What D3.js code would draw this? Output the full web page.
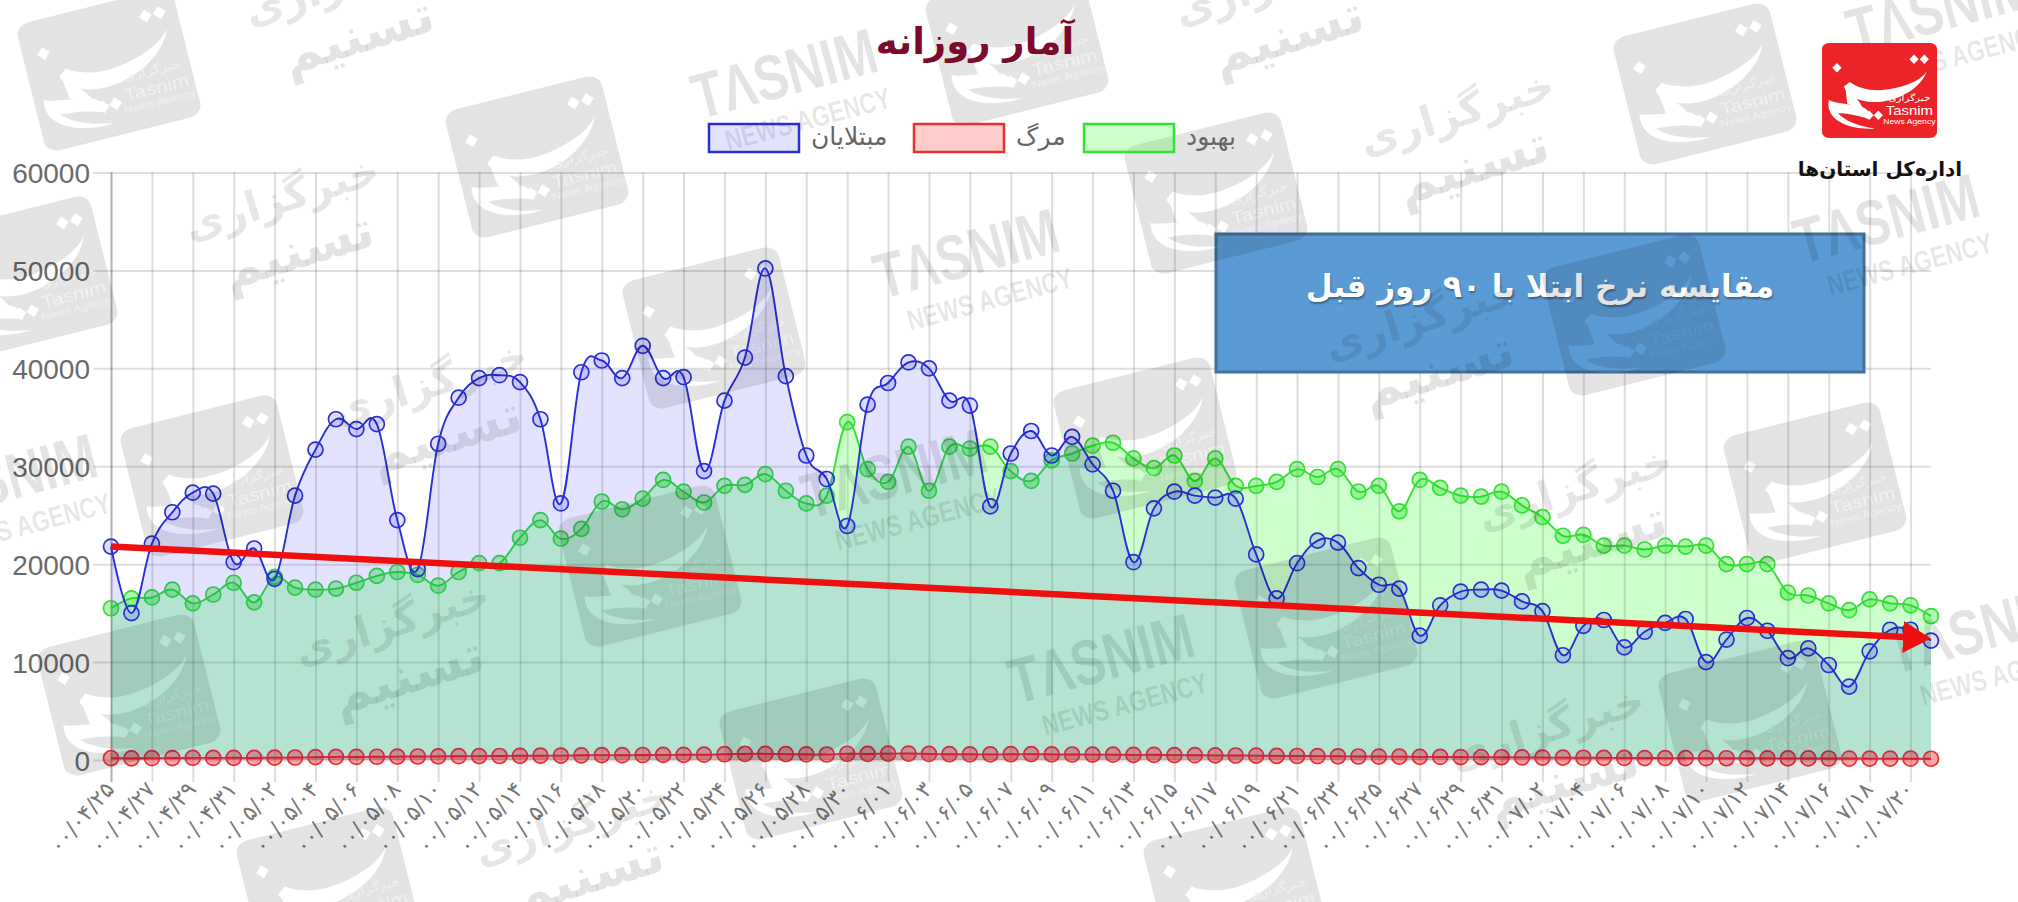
<!DOCTYPE html>
<html><head><meta charset="utf-8">
<script src="https://cdn.jsdelivr.net/npm/d3@7/dist/d3.min.js"></script>
<style>html,body{margin:0;padding:0;background:#fff}svg{display:block}</style>
</head><body><svg id="c" width="2018" height="902"></svg>
<script>
const titleText = "آمار روزانه";
const boxText = "مقایسه نرخ ابتلا با ۹۰ روز قبل";
const orgText = "اداره‌کل استان‌ها";
const seriesNames = ["مبتلایان","مرگ","بهبود"];
const yTicks = [0,10000,20000,30000,40000,50000,60000];
const dates = ["۰۰/۰۴/۲۵","۰۰/۰۴/۲۶","۰۰/۰۴/۲۷","۰۰/۰۴/۲۸","۰۰/۰۴/۲۹","۰۰/۰۴/۳۰","۰۰/۰۴/۳۱",
"۰۰/۰۵/۰۱","۰۰/۰۵/۰۲","۰۰/۰۵/۰۳","۰۰/۰۵/۰۴","۰۰/۰۵/۰۵","۰۰/۰۵/۰۶","۰۰/۰۵/۰۷","۰۰/۰۵/۰۸","۰۰/۰۵/۰۹","۰۰/۰۵/۱۰","۰۰/۰۵/۱۱","۰۰/۰۵/۱۲","۰۰/۰۵/۱۳","۰۰/۰۵/۱۴","۰۰/۰۵/۱۵","۰۰/۰۵/۱۶","۰۰/۰۵/۱۷","۰۰/۰۵/۱۸","۰۰/۰۵/۱۹","۰۰/۰۵/۲۰","۰۰/۰۵/۲۱","۰۰/۰۵/۲۲","۰۰/۰۵/۲۳","۰۰/۰۵/۲۴","۰۰/۰۵/۲۵","۰۰/۰۵/۲۶","۰۰/۰۵/۲۷","۰۰/۰۵/۲۸","۰۰/۰۵/۲۹","۰۰/۰۵/۳۰","۰۰/۰۵/۳۱",
"۰۰/۰۶/۰۱","۰۰/۰۶/۰۲","۰۰/۰۶/۰۳","۰۰/۰۶/۰۴","۰۰/۰۶/۰۵","۰۰/۰۶/۰۶","۰۰/۰۶/۰۷","۰۰/۰۶/۰۸","۰۰/۰۶/۰۹","۰۰/۰۶/۱۰","۰۰/۰۶/۱۱","۰۰/۰۶/۱۲","۰۰/۰۶/۱۳","۰۰/۰۶/۱۴","۰۰/۰۶/۱۵","۰۰/۰۶/۱۶","۰۰/۰۶/۱۷","۰۰/۰۶/۱۸","۰۰/۰۶/۱۹","۰۰/۰۶/۲۰","۰۰/۰۶/۲۱","۰۰/۰۶/۲۲","۰۰/۰۶/۲۳","۰۰/۰۶/۲۴","۰۰/۰۶/۲۵","۰۰/۰۶/۲۶","۰۰/۰۶/۲۷","۰۰/۰۶/۲۸","۰۰/۰۶/۲۹","۰۰/۰۶/۳۰","۰۰/۰۶/۳۱",
"۰۰/۰۷/۰۱","۰۰/۰۷/۰۲","۰۰/۰۷/۰۳","۰۰/۰۷/۰۴","۰۰/۰۷/۰۵","۰۰/۰۷/۰۶","۰۰/۰۷/۰۷","۰۰/۰۷/۰۸","۰۰/۰۷/۰۹","۰۰/۰۷/۱۰","۰۰/۰۷/۱۱","۰۰/۰۷/۱۲","۰۰/۰۷/۱۳","۰۰/۰۷/۱۴","۰۰/۰۷/۱۵","۰۰/۰۷/۱۶","۰۰/۰۷/۱۷","۰۰/۰۷/۱۸","۰۰/۰۷/۱۹","۰۰/۰۷/۲۰","۰۰/۰۷/۲۱"];
const infected = [21800,15000,22100,25300,27300,27200,20200,21600,18500,27000,31700,34800,33800,34300,24500,19500,32300,37000,39000,39300,38600,34800,26200,39600,40800,39000,42300,39000,39100,29500,36700,41100,50200,39200,31100,28700,23900,36300,38500,40600,40000,36700,36200,25900,31300,33600,31100,33000,30200,27500,20200,25700,27400,27000,26800,26700,21000,16500,20100,22400,22200,19600,17900,17500,12700,15800,17200,17400,17300,16200,15200,10700,13700,14300,11500,13100,14000,14400,10000,12300,14500,13200,10400,11400,9700,7500,11100,13300,13300,12200];
const deaths = [190,170,185,200,215,210,225,210,240,255,290,320,310,330,340,360,370,390,400,410,430,440,450,480,500,490,510,520,530,540,590,620,630,600,580,560,640,620,650,660,620,590,580,570,590,600,570,560,550,540,520,530,500,490,470,460,450,420,410,400,380,360,350,340,320,310,300,290,280,270,250,240,230,220,210,200,195,190,185,180,175,170,165,160,155,150,145,140,135,130];
const recovered = [15500,16500,16600,17400,16000,16900,18100,16100,18700,17600,17400,17500,18100,18800,19200,18900,17800,19200,20100,20100,22700,24500,22600,23600,26400,25600,26700,28600,27400,26300,28000,28100,29200,27500,26200,27000,34500,29700,28400,32000,27500,32000,31800,32000,29500,28500,30600,31300,32100,32400,30800,29800,31100,28500,30800,28000,28000,28400,29700,28900,29700,27400,28000,25400,28600,27800,27000,26900,27400,26000,24800,22900,23000,21900,21900,21500,21900,21800,21900,20000,20000,20000,17100,16800,16000,15300,16400,16000,15800,14700];
const trend = [21800,12500];

// decorative watermark placement (not chart data)
const wmLogos = [[109,70],[537,157],[1017,45],[1216,193],[1705,84],[714,328],[26,277],[212,476],[1145,438],[1634,315],[1815,483],[650,566],[1326,618],[129,695],[811,759],[1750,721],[328,888],[1235,888]];
const wmFa = [[290,225],[1465,140],[438,410],[1430,345],[1583,515],[400,650],[1555,755],[580,850],[350,10],[1280,10]];
const wmEn = [[790,95],[972,275],[1892,240],[900,495],[1107,680],[1985,650],[1945,30],[10,500]];

const svg = d3.select("#c");
const faFont="'DejaVu Sans',sans-serif", latFont="'Liberation Sans',Arial,sans-serif";
const x = d3.scalePoint().domain(dates).range([111,1931]);
const y = d3.scaleLinear().domain([0,60000]).range([760,172.5]);

const colors = {
  inf:{s:"#2a30d0",f:"rgba(0,0,255,0.11)",p:"rgba(0,0,255,0.13)"},
  dth:{s:"#e8312f",f:"rgba(255,0,0,0.2)",p:"rgba(255,0,0,0.35)"},
  rec:{s:"#35e035",f:"rgba(0,255,0,0.2)",p:"rgba(0,220,0,0.3)"}};

// axes with grid
const xTicks = dates.filter((d,i)=>i%2===0);
const gx = svg.append("g").attr("transform",`translate(0,${y(0)})`)
  .call(d3.axisBottom(x).tickValues(xTicks).tickSize(10));
gx.select(".domain").remove();
gx.selectAll(".tick line").attr("y1",-(y(0)-y(60000))).attr("y2",22).attr("stroke","rgba(0,0,0,0.13)").attr("stroke-width",2);
gx.select(".tick line").attr("stroke","rgba(0,0,0,0.3)");
gx.selectAll(".tick text").attr("font-family",faFont).attr("font-size",22).attr("letter-spacing",1).attr("fill","#777")
  .attr("text-anchor","end").attr("direction","ltr").attr("dy",0).attr("x",0).attr("y",0)
  .attr("transform","translate(4,30) rotate(-49)");

const gy = svg.append("g").attr("transform",`translate(${x.range()[0]},0)`)
  .call(d3.axisLeft(y).tickValues(yTicks).tickFormat(d3.format("d")).tickSize(18));
gy.select(".domain").remove();
gy.selectAll(".tick line").attr("x1",-18).attr("x2",x.range()[1]-x.range()[0]).attr("stroke","rgba(0,0,0,0.13)").attr("stroke-width",2);
gy.selectAll(".tick text").attr("font-family",latFont).attr("font-size",28).attr("fill","#6a6a6a").attr("x",-21).attr("dy","0.36em");

// series
const curve = d3.curveCardinal.tension(-0.1);
const area = d3.area().x((d,i)=>x(dates[i])).y0(y(0)).y1(d=>y(d)).curve(curve);
const line = d3.line().x((d,i)=>x(dates[i])).y(d=>y(d)).curve(curve);
const series = [{v:recovered,c:colors.rec},{v:deaths,c:colors.dth},{v:infected,c:colors.inf}];
const sg = svg.selectAll("g.s").data(series).enter().append("g").attr("class","s");
sg.append("path").attr("d",d=>area(d.v)).attr("fill",d=>d.c.f);
sg.append("path").attr("d",d=>line(d.v)).attr("fill","none").attr("stroke",d=>d.c.s).attr("stroke-width",1.9);
sg.each(function(s){
  d3.select(this).selectAll("circle").data(s.v).enter().append("circle")
    .attr("cx",(d,i)=>x(dates[i])).attr("cy",d=>y(d)).attr("r",7.5)
    .attr("fill",s.c.p).attr("stroke",s.c.s).attr("stroke-width",1.7);
});

// blue note box
svg.append("rect").attr("x",1216).attr("y",234).attr("width",648).attr("height",138).attr("fill","#5b9bd5").attr("stroke","#41719c").attr("stroke-width",3);
svg.append("text").attr("x",1540).attr("y",297).attr("text-anchor","middle").attr("direction","rtl")
  .attr("font-family",faFont).attr("font-weight","bold").attr("font-size",31).attr("fill","#fff")
  .attr("style","text-shadow:1px 2px 2px rgba(0,0,0,.35)").text(boxText);

// logo artwork in unit coordinates
const defs = svg.append("defs");
const glyphPaths = [
 "M41,-20 C36,-2 14,14 -8,12 C-20,11 -28,4 -31,-4 L-26,-9 C-18,-2 -6,1 6,-1 C20,-3 36,-10 41,-20 Z",
 "M-30,-6 C-26,2 -18,8 -14,20 L-28,14 Z",
 "M-44,10 C-38,14 -24,14 -14,18 C-10,20 -8,24 -10,30 C-18,26 -30,24 -36,24 C-30,32 -18,38 -4,40 C-24,42 -48,32 -44,10 Z",
 "M30,-38 L34,-33 L30,-28 L26,-33 Z","M39,-38 L43,-33 L39,-28 L35,-33 Z","M-37,-29 L-33,-24 L-37,-19 L-41,-24 Z",
 "M-9,21 L-5,26 L-9,31 L-13,26 Z","M-1,21 L3,26 L-1,31 L-5,26 Z"];
const mask = defs.append("mask").attr("id","wmMask").attr("maskUnits","userSpaceOnUse").attr("x",-60).attr("y",-60).attr("width",120).attr("height",120);
mask.append("rect").attr("x",-60).attr("y",-60).attr("width",120).attr("height",120).attr("fill","#fff");
mask.selectAll("path").data(glyphPaths).enter().append("path").attr("d",d=>d).attr("fill","#000");
function logoWords(g,fill){
  g.append("text").attr("x",26).attr("y",11).attr("text-anchor","middle").attr("direction","rtl").attr("font-family",faFont).attr("font-size",9).attr("fill",fill).text("خبرگزاری");
  g.append("text").attr("x",26).attr("y",26).attr("text-anchor","middle").attr("font-family",latFont).attr("font-size",13).attr("fill",fill).text("Tasnim");
  g.append("text").attr("x",26).attr("y",35).attr("text-anchor","middle").attr("font-family",latFont).attr("font-size",7.5).attr("fill",fill).text("News Agency");
}
logoWords(mask,"#888");

// watermark layer
const wm = svg.append("g").attr("pointer-events","none");
const wmFill = "rgba(0,0,0,0.105)";
const gl = wm.selectAll("g.l").data(wmLogos).enter().append("g").attr("transform",d=>`translate(${d[0]},${d[1]}) rotate(-14) scale(1.61,1.32)`);
gl.append("rect").attr("x",-50).attr("y",-50).attr("width",100).attr("height",100).attr("rx",9).attr("fill",wmFill).attr("mask","url(#wmMask)");
const gf = wm.selectAll("g.f").data(wmFa).enter().append("g").attr("transform",d=>`translate(${d[0]},${d[1]}) rotate(-17)`)
  .attr("font-family",faFont).attr("font-weight","bold").attr("fill",wmFill).attr("text-anchor","middle");
gf.append("text").attr("font-size",42).attr("y",-14).attr("direction","rtl").text("خبرگزاری");
gf.append("text").attr("font-size",52).attr("y",44).attr("direction","rtl").text("تسنیم");
const ge = wm.selectAll("g.e").data(wmEn).enter().append("g").attr("transform",d=>`translate(${d[0]},${d[1]}) rotate(-15) scale(0.78,1)`)
  .attr("font-family","'Liberation Sans',sans-serif").attr("font-weight","bold").attr("fill",wmFill).attr("text-anchor","middle");
ge.append("text").attr("font-size",64).text("TΛSNIM");
ge.append("text").attr("font-size",29).attr("x",14).attr("y",38).text("NEWS AGENCY");

// trend arrow, driven by the scales
const ax0=x(dates[0]), ax1=x(dates[dates.length-1]), ay0=y(trend[0]), ay1=y(trend[1]);
defs.append("marker").attr("id","head").attr("markerUnits","userSpaceOnUse").attr("markerWidth",30).attr("markerHeight",34)
  .attr("refX",12).attr("refY",16).attr("orient","auto").append("path").attr("d","M0,0L28,16L0,32Z").attr("fill","#ee0f0f");
svg.append("line").attr("x1",ax0).attr("y1",ay0).attr("x2",ax1-16).attr("y2",ay1).attr("stroke","#ee0f0f").attr("stroke-width",6.5).attr("marker-end","url(#head)");

// title and legend
svg.append("text").attr("x",975).attr("y",54).attr("text-anchor","middle").attr("direction","rtl")
  .attr("font-family",faFont).attr("font-weight","bold").attr("font-size",37).attr("fill","#7c0a2c").text(titleText);
const legendCol=[colors.inf,colors.dth,colors.rec], legendX=[708,913,1083];
const lg = svg.selectAll("g.lg").data(seriesNames).enter().append("g").attr("transform",(d,i)=>`translate(${legendX[i]},123)`);
lg.append("rect").attr("width",90).attr("height",28).attr("x",1).attr("y",1).attr("fill",(d,i)=>legendCol[i].f).attr("stroke",(d,i)=>legendCol[i].s).attr("stroke-width",2.5);
lg.append("text").attr("x",103).attr("y",22).attr("font-family",faFont).attr("font-size",25).attr("fill","#666").attr("text-anchor","start").text(d=>d);

// red logo
const rl = svg.append("g").attr("transform","translate(1879.5,90.5) scale(1.15,0.95)");
rl.append("rect").attr("x",-50).attr("y",-50).attr("width",100).attr("height",100).attr("rx",6).attr("fill","#ec2329");
rl.selectAll("path").data(glyphPaths).enter().append("path").attr("d",d=>d).attr("fill","#fff");
logoWords(rl,"#fff");
svg.append("text").attr("x",1880).attr("y",176).attr("text-anchor","middle").attr("direction","rtl").attr("font-family",faFont).attr("font-weight","bold").attr("font-size",20).attr("fill","#111").text(orgText);
</script></body></html>
